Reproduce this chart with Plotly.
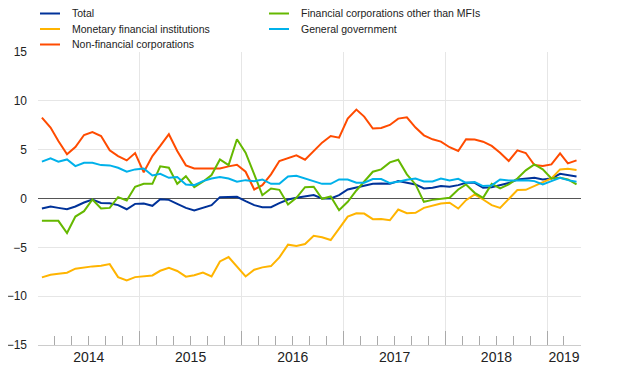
import pandas as pd
import plotly.graph_objects as go

# monthly observations, Jan 2014 - Apr 2019
months = pd.date_range("2014-01-01", periods=64, freq="MS") + pd.Timedelta(days=14)

total = [-1.03, -0.82, -0.96, -1.1, -0.82, -0.41, -0.1, -0.45, -0.48, -0.68, -1.1, -0.55, -0.51, -0.75, -0.07, -0.14,
         -0.55, -0.96, -1.23, -0.96, -0.68, 0.14, 0.14, 0.17, -0.27, -0.68, -0.89, -0.89, -0.48, -0.1, 0.07, 0.24,
         0.35, 0.0, 0.0, 0.34, 0.92, 1.13, 1.34, 1.5, 1.54, 1.5, 1.78, 1.58, 1.44, 1.03, 1.1, 1.27,
         1.2, 1.37, 1.61, 1.61, 1.1, 1.16, 1.37, 1.58, 1.95, 2.05, 2.12, 1.95, 2.05, 2.53, 2.4, 2.26]

mfi = [-8.08, -7.8, -7.7, -7.6, -7.19, -7.05, -6.95, -6.88, -6.72, -8.05, -8.39, -8.05, -7.98, -7.88, -7.4, -7.1,
       -7.42, -8.0, -7.85, -7.58, -7.98, -6.44, -5.99, -6.95, -7.98, -7.29, -7.05, -6.92, -6.03, -4.73, -4.86, -4.66,
       -3.82, -3.97, -4.25, -3.08, -1.85, -1.51, -1.54, -2.12, -2.09, -2.23, -1.13, -1.51, -1.47, -0.96, -0.72, -0.51,
       -0.43, -1.03, -0.17, 0.41, -0.1, -0.68, -0.96, -0.1, 0.86, 0.89, 1.27, 1.71, 2.05, 2.98, 3.05, 2.91]

nfc = [8.29, 7.26, 5.89, 4.52, 5.27, 6.5, 6.8, 6.4, 4.93, 4.35, 3.9, 4.65, 2.68, 4.35, 5.38, 6.58,
       4.86, 3.39, 3.08, 3.08, 3.15, 3.08, 3.29, 3.46, 2.74, 0.92, 1.37, 2.47, 3.84, 4.11, 4.42, 3.97,
       4.9, 5.72, 6.4, 6.23, 8.18, 9.11, 8.39, 7.16, 7.23, 7.53, 8.18, 8.32, 7.26, 6.47, 6.06, 5.82,
       5.25, 4.86, 6.06, 6.03, 5.82, 5.38, 4.69, 3.84, 4.93, 4.66, 3.42, 3.32, 3.49, 4.62, 3.6, 3.9]

fc = [-2.29, -2.29, -2.29, -3.53, -1.85, -1.3, -0.1, -1.03, -0.96, 0.14, -0.2, 1.2, 1.5, 1.5, 3.29, 3.15,
      1.5, 2.29, 1.16, 1.71, 2.4, 4.0, 3.42, 6.06, 4.69, 2.47, 0.34, 1.03, 0.89, -0.62, 0.07, 1.16,
      1.2, -0.03, 0.21, -1.2, -0.34, 0.82, 1.78, 2.74, 2.98, 3.7, 3.97, 2.47, 1.44, -0.34, -0.14, 0.0,
      0.07, 0.92, 1.44, 0.58, 0.07, 1.5, 1.03, 1.44, 2.05, 2.88, 3.49, 2.98, 2.05, 2.12, 1.95, 1.44]

gg = [3.77, 4.11, 3.77, 4.0, 3.32, 3.66, 3.66, 3.42, 3.39, 3.15, 2.74, 2.98, 3.08, 2.36, 2.53, 2.12,
      2.19, 1.44, 1.37, 1.78, 2.05, 2.19, 2.05, 1.71, 1.88, 1.78, 1.95, 1.5, 1.5, 2.26, 2.33, 2.05,
      1.7, 1.5, 1.5, 1.95, 1.95, 1.61, 1.61, 1.99, 1.99, 1.58, 1.71, 1.92, 2.05, 1.75, 1.75, 2.05,
      1.85, 2.02, 1.61, 1.68, 1.27, 1.34, 1.95, 1.85, 1.85, 1.88, 1.78, 1.44, 1.78, 2.12, 1.88, 1.71]

year_starts = ["2014-01-01", "2015-01-01", "2016-01-01", "2017-01-01", "2018-01-01", "2019-01-01"]
year_label_pos = ["2014-07-02", "2015-07-02", "2016-07-02", "2017-07-02", "2018-07-02", "2019-03-01"]
year_labels = ["2014", "2015", "2016", "2017", "2018", "2019"]
x_range = ["2014-01-01", "2019-05-01"]
y_ticks = [-15, -10, -5, 0, 5, 10, 15]

series = [
    ("Total", total, "#003299"),
    ("Monetary financial institutions", mfi, "#ffb400"),
    ("Non-financial corporations", nfc, "#ff4b00"),
    ("Financial corporations other than MFIs", fc, "#65b800"),
    ("General government", gg, "#00b1ea"),
]

FONT = "Liberation Sans, Arial, sans-serif"

fig = go.Figure()
for name, vals, color in series:
    fig.add_trace(go.Scatter(x=months, y=vals, mode="lines", name=name,
                             line=dict(color=color, width=2), showlegend=False))

# helper trace so the label axis is drawn
fig.add_trace(go.Scatter(x=[months[0], months[-1]], y=[None, None], xaxis="x2",
                         showlegend=False, hoverinfo="skip", mode="lines"))

# legend laid out in two columns (3 + 2 entries), drawn as line samples + text
PLOT_W, PLOT_H = 543.0, 293.0
col_left_px = [2.0, 231.0]       # sample start, px from plot left
row_px = [38.5, 23.0, 7.5]       # text centre, px above plot top
legend_slots = [(0, 0), (0, 1), (0, 2), (1, 0), (1, 1)]
shapes, annotations = [], []
for (name, _, color), (c, r) in zip(series, legend_slots):
    y = 1 + row_px[r] / PLOT_H
    x0 = col_left_px[c] / PLOT_W
    x1 = (col_left_px[c] + 20) / PLOT_W
    shapes.append(dict(type="line", xref="paper", yref="paper", x0=x0, x1=x1, y0=y, y1=y,
                       line=dict(color=color, width=2)))
    annotations.append(dict(xref="paper", yref="paper", x=(col_left_px[c] + 30) / PLOT_W, y=y,
                            xanchor="left", yanchor="middle", text=name, showarrow=False,
                            font=dict(size=10.5, color="#222222", family=FONT)))

# the page body adds an 8px offset, so the figure is 8px smaller and shifted
fig.update_layout(
    width=612, height=379,
    margin=dict(l=30, r=39, t=44, b=42, autoexpand=False),
    paper_bgcolor="white", plot_bgcolor="white",
    font=dict(family=FONT, color="#222222"),
    showlegend=False,
    shapes=shapes, annotations=annotations,
    xaxis=dict(type="date", range=x_range, tickmode="array", tickvals=year_starts,
               showticklabels=False, ticks="inside", ticklen=14, tickcolor="#aaaaaa",
               showgrid=True, gridcolor="#e6e6e6", gridwidth=1,
               showline=True, linecolor="#cccccc", linewidth=1, zeroline=False,
               minor=dict(ticks="inside", ticklen=9, tickcolor="#aaaaaa", dtick="M2",
                          tick0="2014-01-01", showgrid=False)),
    xaxis2=dict(type="date", range=x_range, overlaying="x", side="bottom",
                tickmode="array", tickvals=year_label_pos, ticktext=year_labels,
                ticks="", showgrid=False, showline=False, zeroline=False,
                tickfont=dict(size=14, color="#222222"), ticklabelstandoff=2),
    yaxis=dict(range=[-15, 15], tickmode="array", tickvals=y_ticks,
               showgrid=True, gridcolor="#e6e6e6", gridwidth=1,
               zeroline=True, zerolinecolor="#555555", zerolinewidth=1,
               ticks="", tickfont=dict(size=12, color="#222222"), ticklabelstandoff=10,
               showline=False),
)

fig.write_html("out.html")
